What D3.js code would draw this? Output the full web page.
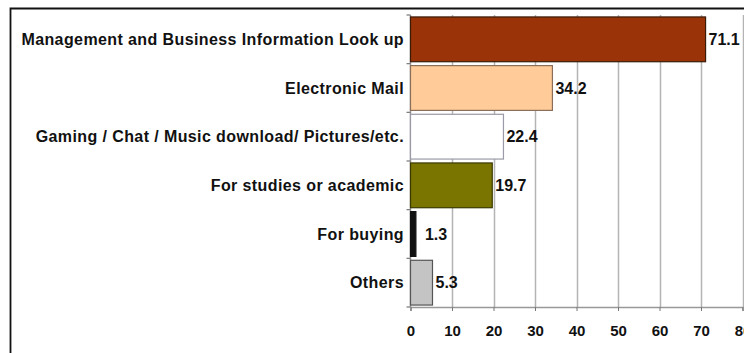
<!DOCTYPE html>
<html>
<head>
<meta charset="utf-8">
<script src="https://cdn.jsdelivr.net/npm/d3@7"></script>
<style>
  html, body { margin: 0; padding: 0; background: #fff; }
  svg { display: block; }
  text { font-family: "Liberation Sans", Arial, sans-serif; font-weight: bold; fill: #111; }
</style>
</head>
<body>
<svg id="chart" width="744" height="353"></svg>
<script>
// Internet usage purposes (percent of respondents)
const categories = [
  "Management and Business Information Look up",
  "Electronic Mail",
  "Gaming / Chat / Music download/ Pictures/etc.",
  "For studies or academic",
  "For buying",
  "Others"
];
const values = [71.1, 34.2, 22.4, 19.7, 1.3, 5.3];
const barColors = ["#9a3408", "#ffcc99", "#ffffff", "#7a7400", "#111111", "#c4c4c4"];
const barStrokes = ["#3a1a08", "#8a6e5a", "#9a9aa8", "#3a3a00", "#111111", "#555555"];
const xTicks = [0, 10, 20, 30, 40, 50, 60, 70, 80];

const svg = d3.select("#chart");
const W = 744, H = 353;
const plot = { left: 410.5, right: 742.5, top: 15, bottom: 307 };

// Outer frame (left and top edges visible)
svg.append("path")
  .attr("d", `M10.5,${H + 2} L10.5,8.5 L${W + 2},8.5`)
  .attr("fill", "none").attr("stroke", "#111").attr("stroke-width", 1.8);

const x = d3.scaleLinear().domain([0, 80]).range([plot.left, plot.right]);
const y = d3.scaleBand().domain(categories).range([plot.top, plot.bottom])
  .paddingInner(0.08).paddingOuter(0.04);

// Vertical gridlines
svg.append("g").selectAll("line").data(xTicks.slice(1)).join("line")
  .attr("x1", d => Math.round(x(d)) + 0.5).attr("x2", d => Math.round(x(d)) + 0.5)
  .attr("y1", plot.top).attr("y2", plot.bottom)
  .attr("stroke", "#b4b4b4").attr("stroke-width", 1.5);

// X axis
const xAxis = svg.append("g").attr("transform", `translate(0,${plot.bottom})`)
  .call(d3.axisBottom(x).tickValues(xTicks).tickSize(4).tickPadding(14));
xAxis.select(".domain").attr("stroke", "#999").attr("stroke-width", 1.5);
xAxis.selectAll(".tick line").attr("stroke", "#777");
xAxis.selectAll(".tick text").style("font-size", "15px").style("font-family", "Liberation Sans, Arial, sans-serif").attr("fill", "#111");

// Y axis with category tick marks between bands
const yAxisG = svg.append("g").attr("transform", `translate(${plot.left},0)`);
yAxisG.append("line").attr("x1", 0).attr("x2", 0).attr("y1", plot.top).attr("y2", plot.bottom)
  .attr("stroke", "#999").attr("stroke-width", 1.5);
const bounds = d3.range(categories.length + 1).map(i => plot.top + (plot.bottom - plot.top) * i / categories.length);
yAxisG.selectAll("line.tk").data(bounds).join("line").attr("class", "tk")
  .attr("x1", -4).attr("x2", 0).attr("y1", d => d).attr("y2", d => d)
  .attr("stroke", "#777").attr("stroke-width", 1.2);

// Category labels
svg.append("g").selectAll("text").data(categories).join("text")
  .attr("x", 404).attr("y", d => y(d) + y.bandwidth() / 2)
  .attr("dy", "0.35em").attr("text-anchor", "end")
  .style("font-size", "16px").style("letter-spacing", "0.4px")
  .text(d => d);

// Bars
svg.append("g").selectAll("rect").data(values).join("rect")
  .attr("x", x(0))
  .attr("y", (d, i) => y(categories[i]))
  .attr("width", d => x(d) - x(0))
  .attr("height", y.bandwidth())
  .attr("fill", (d, i) => barColors[i])
  .attr("stroke", (d, i) => barStrokes[i])
  .attr("stroke-width", 1.2);

// Value labels
svg.append("g").selectAll("text").data(values).join("text")
  .attr("x", d => x(d) + (d < 2 ? 9 : 3))
  .attr("y", (d, i) => y(categories[i]) + y.bandwidth() / 2)
  .attr("dy", "0.35em")
  .style("font-size", "16px")
  .text(d => d.toFixed(1));
</script>
</body>
</html>
